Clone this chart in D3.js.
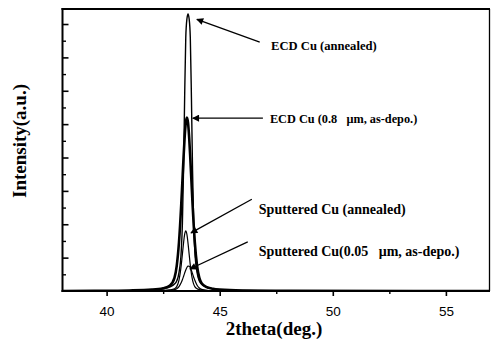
<!DOCTYPE html>
<html>
<head>
<meta charset="utf-8">
<script src="https://cdn.jsdelivr.net/npm/d3@7"></script>
<style>
  html, body { margin: 0; padding: 0; background: #fff; }
  svg { display: block; }
</style>
</head>
<body>
<svg id="chart" width="491" height="357"></svg>
<script>
// ---- data ----
const twoTheta = [38, 40, 41, 42, 42.5, 42.8, 43.0, 43.1, 43.2, 43.3, 43.35, 43.4, 43.45, 43.5, 43.55,
  43.6, 43.65, 43.7, 43.75, 43.8, 43.85, 43.9, 44.0, 44.1, 44.2, 44.4, 44.7, 45, 46, 48, 57];

const ecdAnnealed = [0, 0.01, 0.012, 0.031, 0.065, 0.12, 0.21, 0.3, 0.55, 1.2, 2.0, 3.6, 5.8, 7.6, 8.15,
  8.3, 8.15, 7.6, 5.8, 3.6, 2.0, 1.2, 0.55, 0.3, 0.2, 0.12, 0.065, 0.041, 0.014, 0.004, 0];

const ecdAsDepo = [0, 0.008, 0.016, 0.04, 0.084, 0.163, 0.394, 0.754, 1.46, 2.6, 3.29, 3.98, 4.6, 5.04, 5.2,
  5.04, 4.6, 3.98, 3.29, 2.6, 1.98, 1.46, 0.754, 0.394, 0.235, 0.125, 0.07, 0.045, 0.016, 0.005, 0];

const sputAnnealed = [0, 0.001, 0.003, 0.008, 0.017, 0.033, 0.068, 0.132, 0.328, 0.776, 1.098, 1.429, 1.696, 1.8, 1.696,
  1.429, 1.098, 0.776, 0.515, 0.328, 0.205, 0.132, 0.068, 0.045, 0.033, 0.021, 0.012, 0.0077, 0.003, 0.001, 0];

const sputAsDepo = [0, 0.001, 0.002, 0.005, 0.011, 0.019, 0.04, 0.069, 0.134, 0.255, 0.338, 0.434, 0.535, 0.63, 0.705,
  0.746, 0.74, 0.693, 0.612, 0.515, 0.414, 0.321, 0.174, 0.09, 0.049, 0.021, 0.011, 0.007, 0.002, 0.001, 0];

const seriesNames = ["ECD Cu (annealed)", "ECD Cu (as-depo.)", "Sputtered Cu (annealed)", "Sputtered Cu (as-depo.)"];
const seriesValues = [ecdAnnealed, ecdAsDepo, sputAnnealed, sputAsDepo];
const seriesWidths = [1.4, 2.6, 1.2, 1.2];

const xMajorTicks = [40, 45, 50, 55];
const xMinorTicks = [42.5, 47.5, 52.5];
const yMajorTicks = [1, 2, 3, 4, 5, 6, 7, 8];
const yMinorTicks = [0.5, 1.5, 2.5, 3.5, 4.5, 5.5, 6.5, 7.5];

const annotationLabels = ["ECD Cu (0.8\u2002 \u03bcm, as-depo.)", "ECD Cu (annealed)",
  "Sputtered Cu (annealed)", "Sputtered Cu(0.05\u2002 \u03bcm, as-depo.)"];
// tip [x, y], tail [x, y], text [x, y] in data units
const annotationTips  = [[43.81, 5.18], [43.99, 8.14], [43.73, 1.74], [43.68, 0.66]];
const annotationTails = [[46.91, 5.18], [46.77, 7.46], [46.42, 2.75], [46.24, 1.47]];
const annotationText  = [[47.22, 5.16], [47.27, 7.34], [46.73, 2.44], [46.73, 1.19]];
const annotationSizes = [12.3, 12.6, 14, 14];

// ---- layout ----
const svg = d3.select("#chart");
const L = 62.5, R = 490, T = 9, B = 291;

const x = d3.scaleLinear().domain([38.05, 56.95]).range([L, R]);
const y = d3.scaleLinear().domain([0, 8.45]).range([B, T]);

const defs = svg.append("defs");
defs.append("clipPath").attr("id", "clip")
  .append("rect").attr("x", L).attr("y", T - 2).attr("width", R - L).attr("height", B - T + 2);
defs.append("marker").attr("id", "arr")
  .attr("viewBox", "0 0 10 10").attr("refX", 9).attr("refY", 5)
  .attr("markerWidth", 9).attr("markerHeight", 7).attr("markerUnits", "userSpaceOnUse")
  .attr("orient", "auto")
  .append("path").attr("d", "M0,0 L10,5 L0,10 Z").attr("fill", "#000");

// curves
const line = d3.line().x(d => x(d[0])).y(d => y(d[1])).curve(d3.curveMonotoneX);
const g = svg.append("g").attr("clip-path", "url(#clip)");
seriesValues.forEach((vals, i) => {
  g.append("path")
    .datum(twoTheta.map((t, j) => [t, vals[j]]))
    .attr("fill", "none").attr("stroke", "#000")
    .attr("stroke-width", seriesWidths[i])
    .attr("stroke-linejoin", "round")
    .attr("d", line);
});

// axes
const xAxis = svg.append("g").attr("transform", `translate(0,${B})`)
  .call(d3.axisBottom(x).tickValues(xMajorTicks).tickSize(5).tickPadding(10).tickFormat(d3.format("d")));
xAxis.select(".domain").remove();
xAxis.selectAll("line").attr("stroke-width", 1.6);
xAxis.selectAll("text").attr("font-family", "Liberation Sans, Arial, sans-serif").attr("font-size", 13.5).attr("fill", "#000");

const xMinor = svg.append("g").attr("transform", `translate(0,${B})`)
  .call(d3.axisBottom(x).tickValues(xMinorTicks).tickSize(3).tickFormat(""));
xMinor.select(".domain").remove();
xMinor.selectAll("line").attr("stroke-width", 1.4);

const yAxis = svg.append("g").attr("transform", `translate(${L},0)`)
  .call(d3.axisRight(y).tickValues(yMajorTicks).tickSize(6).tickFormat(""));
yAxis.select(".domain").remove();
yAxis.selectAll("line").attr("stroke-width", 1.6);

const yMinor = svg.append("g").attr("transform", `translate(${L},0)`)
  .call(d3.axisRight(y).tickValues(yMinorTicks).tickSize(3.5).tickFormat(""));
yMinor.select(".domain").remove();
yMinor.selectAll("line").attr("stroke-width", 1.4);

// frame
svg.append("line").attr("x1", L).attr("x2", L).attr("y1", T - 1).attr("y2", B + 1).attr("stroke", "#000").attr("stroke-width", 2);
svg.append("line").attr("x1", L - 1).attr("x2", R).attr("y1", B).attr("y2", B).attr("stroke", "#000").attr("stroke-width", 2);
svg.append("line").attr("x1", L - 1).attr("x2", R).attr("y1", T).attr("y2", T).attr("stroke", "#000").attr("stroke-width", 2);
svg.append("line").attr("x1", R - 0.5).attr("x2", R - 0.5).attr("y1", T).attr("y2", B).attr("stroke", "#000").attr("stroke-width", 1.3);

// axis titles
svg.append("text").attr("x", 274).attr("y", 335).attr("text-anchor", "middle")
  .attr("font-family", "Liberation Serif, Times New Roman, serif").attr("font-weight", "bold")
  .attr("font-size", 19).text("2theta(deg.)");
svg.append("text").attr("transform", "translate(25.5,141) rotate(-90)").attr("text-anchor", "middle")
  .attr("font-family", "Liberation Serif, Times New Roman, serif").attr("font-weight", "bold")
  .attr("font-size", 19).text("Intensity(a.u.)");

// annotations
annotationLabels.forEach((lab, i) => {
  svg.append("line")
    .attr("x1", x(annotationTails[i][0])).attr("y1", y(annotationTails[i][1]))
    .attr("x2", x(annotationTips[i][0])).attr("y2", y(annotationTips[i][1]))
    .attr("stroke", "#000").attr("stroke-width", 1.3).attr("marker-end", "url(#arr)");
  svg.append("text")
    .attr("x", x(annotationText[i][0])).attr("y", y(annotationText[i][1]))
    .attr("dy", "0.35em")
    .attr("font-family", "Liberation Serif, Times New Roman, serif").attr("font-weight", "bold")
    .attr("font-size", annotationSizes[i]).text(lab);
});
</script>
</body>
</html>
